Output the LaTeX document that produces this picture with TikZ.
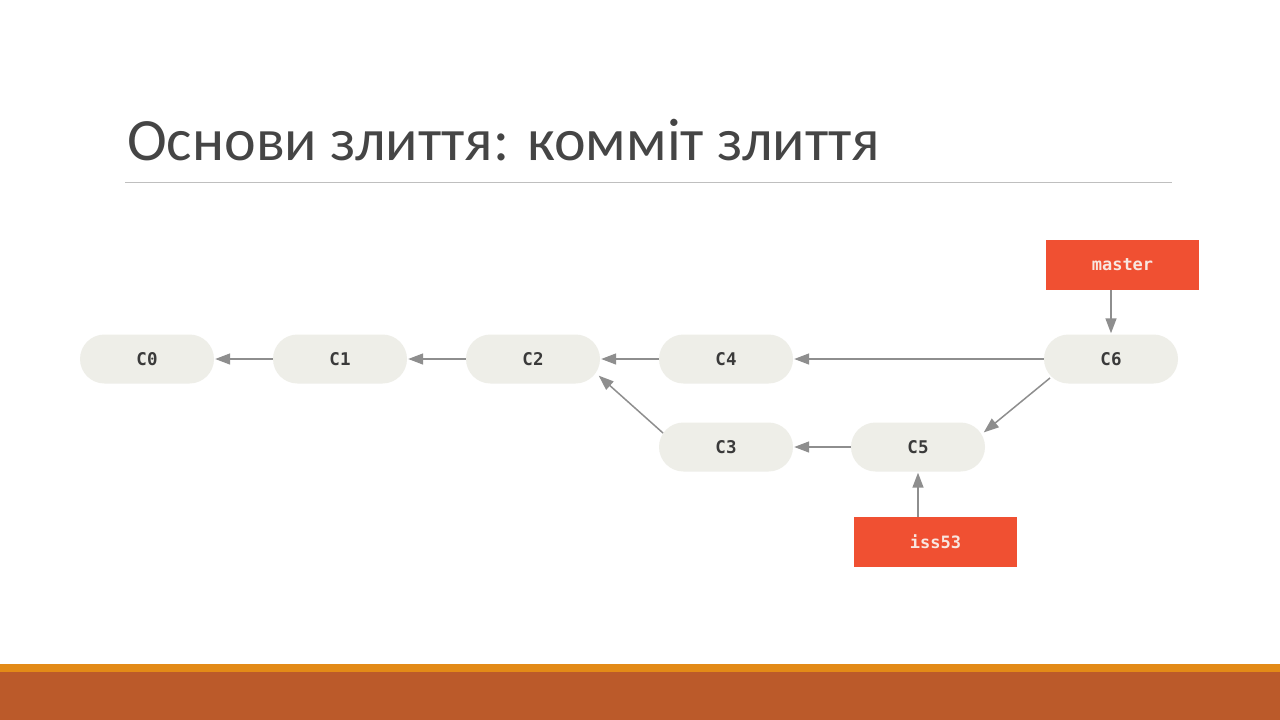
\documentclass[tikz,border=0pt]{standalone}
\usepackage{fontspec}
\setmainfont{Carlito}
\newfontfamily\monof{DejaVu Sans Mono}
\usetikzlibrary{arrows.meta,calc}
\definecolor{titlec}{HTML}{454545}
\definecolor{rulec}{HTML}{BFBFBF}
\definecolor{nodefill}{HTML}{EEEEE8}
\definecolor{nodetext}{HTML}{3A3A3A}
\definecolor{branchred}{HTML}{F05032}
\definecolor{branchtext}{HTML}{F8E6E0}
\definecolor{arrowc}{HTML}{8E8E8E}
\definecolor{bandtop}{HTML}{E38A17}
\definecolor{bandbot}{HTML}{BB5A2A}
\tikzset{
  commit/.style={fill=nodefill, rounded corners=24.5pt, minimum width=134pt, minimum height=49pt, inner sep=0pt, font=\monof\bfseries\fontsize{17.5}{20}\selectfont, text=nodetext},
  branch/.style={fill=branchred, minimum height=50pt, inner sep=0pt, font=\monof\bfseries\fontsize{17}{19}\selectfont, text=branchtext},
  link/.style={draw=arrowc, line width=1.5pt, -{Triangle[length=15pt,width=11pt]}, shorten >=1pt, shorten <=0pt},
}
\begin{document}
\begin{tikzpicture}[x=1pt,y=-1pt]
\useasboundingbox (0,0) rectangle (1280,720);
\fill[white] (0,0) rectangle (1280,720);
% bands
\fill[bandtop] (0,664) rectangle (1280,672);
\fill[bandbot] (0,672) rectangle (1280,720);
% title
\node[anchor=base west, inner sep=0pt, text=titlec, font=\fontsize{60}{68}\selectfont] (title) at (127,160) {Основи злиття: комміт злиття};
\draw[rulec, line width=1pt] (125,182) -- (1172,182);
% commits
\node[commit] (c0) at (147,359) {C0};
\node[commit] (c1) at (340,359) {C1};
\node[commit] (c2) at (533,359) {C2};
\node[commit] (c4) at (726,359) {C4};
\node[commit] (c6) at (1111,359) {C6};
\node[commit] (c3) at (726,447) {C3};
\node[commit] (c5) at (918,447) {C5};
% branches
\node[branch, minimum width=153pt] (master) at (1122.5,265) {master};
\node[branch, minimum width=163pt] (iss) at (935.5,542) {iss53};
% links
\draw[link] (c1.west) -- (c0.east);
\draw[link] (c2.west) -- (c1.east);
\draw[link] (c4.west) -- (c2.east);
\draw[link] (c6.west) -- (c4.east);
\draw[link] (c5.west) -- (c3.east);
\coordinate (c3s) at ($(c3.center)+(-63,-14)$);
\coordinate (c2e) at ($(c2.center)+(65,16)$);
\draw[link] (c3s) -- (c2e);
\coordinate (c6s) at ($(c6.center)+(-61,19)$);
\coordinate (c5e) at ($(c5.center)+(65,-14)$);
\draw[link] (c6s) -- (c5e);
\coordinate (ms) at (master.south -| c6.north);
\draw[link] (ms) -- (c6.north);
\coordinate (is) at (iss.north -| c5.south);
\draw[link] (is) -- (c5.south);
\end{tikzpicture}
\end{document}
